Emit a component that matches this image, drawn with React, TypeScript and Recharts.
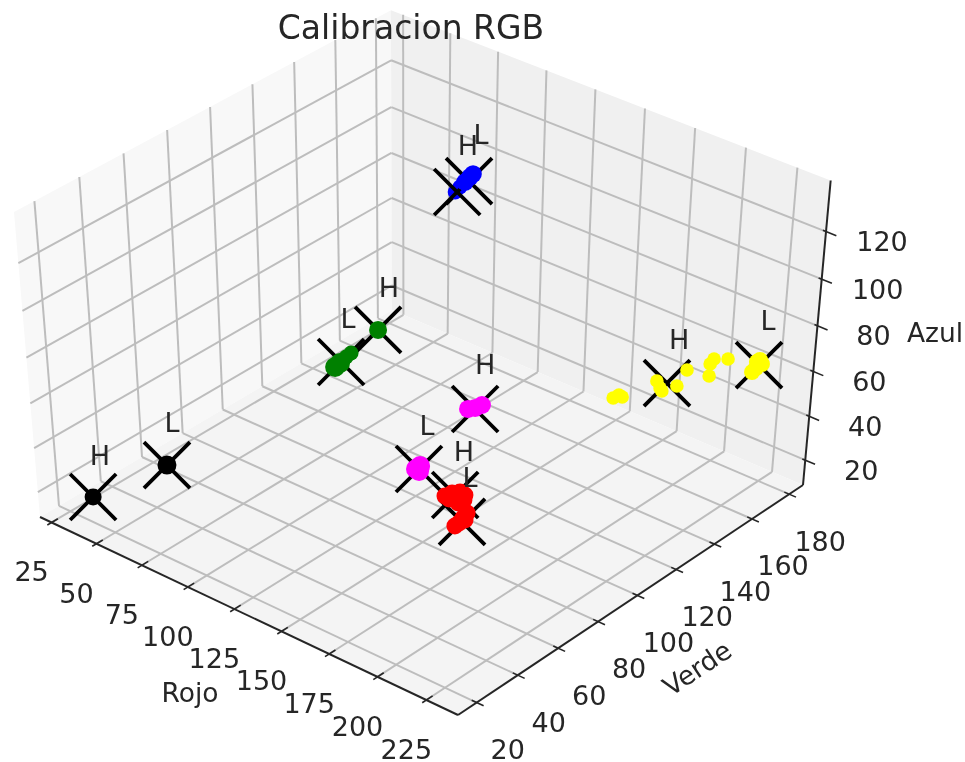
import React from 'react';
import { ScatterChart, Scatter, XAxis, YAxis } from 'recharts';

type V3 = [number, number, number];

// Axis limits and ticks (Rojo, Verde, Azul)
const rojoLim = [18.5, 241];
const verdeLim = [11, 187.5];
const azulLim = [8.5, 141];
const rojoTicks = [25, 50, 75, 100, 125, 150, 175, 200, 225];
const verdeTicks = [20, 40, 60, 80, 100, 120, 140, 160, 180];
const azulTicks = [20, 40, 60, 80, 100, 120];

// Readings
const negroL: V3[] = [[44.3, 50.4, 20]];
const negroH: V3[] = [[32.2, 25.1, 15]];
const verdeLBase: V3[] = [[45.1, 133.3, 20], [44.5, 136.4, 20]];
const verdeLPunta: V3[] = [[43.2, 140.7, 20], [42.6, 143.8, 20]];
const verdeH: V3[] = [[50.6, 150.4, 30]];
const azulBajo: V3[] = [[98.0, 144.6, 110], [96.8, 148.1, 110]];
const azulAlto: V3[] = [[95.7, 151.7, 110], [94.5, 155.3, 110], [93.9, 157.4, 110]];
const magentaH: V3[] = [[154.0, 98.2, 60], [155.7, 100.1, 60], [156.3, 102.9, 60]];
const magentaL: V3[] = [[145.8, 80.5, 40], [145.6, 82.7, 40], [147.7, 80.2, 40]];
const rojoL: V3[] = [[157.1, 84.2, 30], [157.8, 87.1, 30], [159.7, 89.2, 30], [162.7, 88.8, 30], [161.6, 84.9, 30], [159.8, 83.7, 30], [164.8, 86.3, 30], [164.5, 83.7, 30]];
const rojoH: V3[] = [[156.3, 96.2, 15], [157.5, 93.0, 15], [158.7, 89.9, 15], [158.9, 87.6, 15], [159.1, 92.5, 15]];
const amarilloL: V3[] = [[229.5, 168.9, 70], [229.5, 170.5, 70], [232.1, 165.7, 70], [232.8, 162.9, 70], [232.0, 168.9, 70]];
const amarilloH: V3[] = [[187.2, 161.8, 50], [191.6, 159.0, 50], [193.6, 157.9, 50], [195.8, 163.5, 50], [191.1, 173.6, 50]];
const amarilloM: V3[] = [[211.3, 163.7, 60], [205.8, 169.9, 60], [204.6, 173.2, 60], [208.9, 176.1, 60]];
const amarilloB: V3[] = [[171.4, 155.5, 40], [171.7, 158.2, 40], [173.7, 157.9, 40]];

// Reference crosses for each H / L group
const cruces: V3[] = [
  [44.3, 50.4, 20], [32.2, 25.1, 15], [44.3, 137.1, 20], [50.6, 150.4, 30],
  [156.2, 99.6, 60], [146.7, 81.1, 40], [159.7, 86.8, 30], [159.1, 91.0, 15],
  [231.6, 167.8, 70], [191.3, 162.9, 50], [96.4, 153.0, 110],
];
const cruzAzul: V3[] = [[98.6, 145.0, 110]];

// H / L annotations
const etiquetasH: V3[] = [[30.1, 31.2, 30], [42.6, 163.5, 40], [89.4, 159.0, 120], [148.6, 111.7, 70], [151.6, 98.8, 40], [205.5, 152.6, 80]];
const etiquetasL: V3[] = [[35.5, 61.1, 30], [46.5, 138.9, 40], [87.5, 167.4, 120], [160.7, 71.7, 70], [166.6, 87.4, 40], [223.7, 179.8, 80]];

// ---- projection of the 3D box onto the page, calibrated on the box corners
const O = [40, 517], A = [458, 715], B = [392, 310], C = [803, 485], T0 = [14, 212];
const c3 = -0.066;
const det = (C[0] - A[0]) * (C[1] - B[1]) - (C[0] - B[0]) * (C[1] - A[1]);
const r1 = A[0] + B[0] - O[0] - C[0], r2 = A[1] + B[1] - O[1] - C[1];
const a3 = (r1 * (C[1] - B[1]) - (C[0] - B[0]) * r2) / det;
const b3 = ((C[0] - A[0]) * r2 - (C[1] - A[1]) * r1) / det;
const Vx = [(1 + a3) * A[0] - O[0], (1 + a3) * A[1] - O[1]];
const Vy = [(1 + b3) * B[0] - O[0], (1 + b3) * B[1] - O[1]];
const Vz = [(1 + c3) * T0[0] - O[0], (1 + c3) * T0[1] - O[1]];

const pr = ([x, y, z]: V3, dx = 0, dy = 0) => {
  const s = (x - rojoLim[0]) / (rojoLim[1] - rojoLim[0]);
  const t = (y - verdeLim[0]) / (verdeLim[1] - verdeLim[0]);
  const w = (z - azulLim[0]) / (azulLim[1] - azulLim[0]);
  const h = 1 + s * a3 + t * b3 + w * c3;
  return {
    px: (O[0] + s * Vx[0] + t * Vy[0] + w * Vz[0]) / h + dx,
    py: (O[1] + s * Vx[1] + t * Vy[1] + w * Vz[1]) / h + dy,
  };
};

const [x0, x1] = rojoLim, [y0, y1] = verdeLim, [z0, z1] = azulLim;

const W = 965, H = 762;
const GRID = '#bdbdbd';
const INK = '#262626';
const FONT = '"DejaVu Sans", sans-serif';
const none = () => <g />;

const seg = (key: string, a: V3, b: V3, stroke: string, strokeWidth: number) => (
  <Scatter key={key} data={[pr(a), pr(b)]} line={{ stroke, strokeWidth }} shape={none} isAnimationActive={false} legendType="none" />
);

const pane = (key: string, pts: V3[], fill: string) => (
  <Scatter
    key={key}
    data={[{ ...pr(pts[0]), poly: pts.map((p) => pr(p)) }]}
    shape={(p: any) => <polygon points={p.payload.poly.map((q: any) => `${q.px},${q.py}`).join(' ')} fill={fill} />}
    isAnimationActive={false}
  />
);

const dots = (key: string, pts: V3[], fill: string, r: number) => (
  <Scatter key={key} data={pts.map((p) => pr(p))} isAnimationActive={false}
    shape={(p: any) => <circle cx={p.cx} cy={p.cy} r={r} fill={fill} />} />
);

const crossShape = (p: any) => {
  const k = 23;
  return (
    <g stroke="#000" strokeWidth={3.8} strokeLinecap="butt">
      <line x1={p.cx - k} y1={p.cy - k} x2={p.cx + k} y2={p.cy + k} />
      <line x1={p.cx - k} y1={p.cy + k} x2={p.cx + k} y2={p.cy - k} />
    </g>
  );
};

const texts = (key: string, items: { px: number; py: number; text: string }[], size: number, rotate = 0) => (
  <Scatter key={key} data={items} isAnimationActive={false}
    shape={(p: any) => (
      <text x={p.cx} y={p.cy} textAnchor="middle" dominantBaseline="central" fontFamily={FONT} fontSize={size} fill={INK}
        transform={rotate ? `rotate(${rotate} ${p.cx} ${p.cy})` : undefined}>{p.payload.text}</text>
    )} />
);

export default function App() {
  return (
    <div style={{ position: 'absolute', left: 0, top: 0, width: W, height: H, background: '#fff', filter: 'blur(0.6px)' }}>
      <ScatterChart width={W} height={H} margin={{ top: 0, right: 0, bottom: 0, left: 0 }}>
        <XAxis type="number" dataKey="px" domain={[0, W]} hide />
        <YAxis type="number" dataKey="py" domain={[0, H]} reversed hide />

        {pane('wallL', [[x0, y0, z0], [x0, y1, z0], [x0, y1, z1], [x0, y0, z1]], '#f8f8f8')}
        {pane('wallR', [[x0, y1, z0], [x1, y1, z0], [x1, y1, z1], [x0, y1, z1]], '#f0f0f0')}
        {pane('floor', [[x0, y0, z0], [x1, y0, z0], [x1, y1, z0], [x0, y1, z0]], '#f4f4f4')}

        {rojoTicks.map((v) => seg(`gxf${v}`, [v, y0, z0], [v, y1, z0], GRID, 2))}
        {rojoTicks.map((v) => seg(`gxw${v}`, [v, y1, z0], [v, y1, z1], GRID, 2))}
        {verdeTicks.map((v) => seg(`gyf${v}`, [x1, v, z0], [x0, v, z0], GRID, 2))}
        {verdeTicks.map((v) => seg(`gyw${v}`, [x0, v, z0], [x0, v, z1], GRID, 2))}
        {azulTicks.map((v) => seg(`gzl${v}`, [x0, y0, v], [x0, y1, v], GRID, 2))}
        {azulTicks.map((v) => seg(`gzr${v}`, [x0, y1, v], [x1, y1, v], GRID, 2))}

        {seg('axX', [x0, y0, z0], [x1, y0, z0], INK, 2)}
        {seg('axY', [x1, y0, z0], [x1, y1, z0], INK, 2)}
        {seg('axZ', [x1, y1, z0], [x1, y1, z1], INK, 2)}
        {rojoTicks.map((v) => seg(`tx${v}`, [v, y0 - 2, z0], [v, y0 + 3, z0], INK, 1.6))}
        {verdeTicks.map((v) => seg(`ty${v}`, [x1 - 2.5, v, z0], [x1 + 3.5, v, z0], INK, 1.6))}
        {azulTicks.map((v) => seg(`tz${v}`, [x1 - 1.5, y1, v], [x1 + 5, y1, v], INK, 1.6))}

        <Scatter data={cruces.map((p) => pr(p))} shape={crossShape} isAnimationActive={false} />

        {dots('negroL', negroL, '#000', 9.5)}
        {dots('negroH', negroH, '#000', 8.5)}
        {dots('verdeLBase', verdeLBase, '#008000', 10)}
        {dots('verdeLPunta', verdeLPunta, '#008000', 7.5)}
        {dots('verdeH', verdeH, '#008000', 9)}
        {dots('azulBajo', azulBajo, '#0000ff', 7.5)}
        <Scatter data={cruzAzul.map((p) => pr(p))} shape={crossShape} isAnimationActive={false} />
        {dots('azulAlto', azulAlto, '#0000ff', 8.8)}
        {dots('magentaH', magentaH, '#ff00ff', 9)}
        {dots('magentaL', magentaL, '#ff00ff', 10)}
        {dots('rojoL', rojoL, '#ff0000', 8.5)}
        {dots('rojoH', rojoH, '#ff0000', 8.5)}
        {dots('amarilloL', amarilloL, '#ffff00', 8)}
        {dots('amarilloH', amarilloH, '#ffff00', 6.8)}
        {dots('amarilloM', amarilloM, '#ffff00', 6.8)}
        {dots('amarilloB', amarilloB, '#ffff00', 6.8)}

        {texts('lh', etiquetasH.map((p) => ({ ...pr(p), text: 'H' })), 27)}
        {texts('ll', etiquetasL.map((p) => ({ ...pr(p), text: 'L' })), 27)}
        {texts('tlx', rojoTicks.map((v) => ({ ...pr([v, y0, z0], -20, 49.5), text: String(v) })), 27)}
        {texts('tly', verdeTicks.map((v) => ({ ...pr([x1, v, z0], 31, 47), text: String(v) })), 27)}
        {texts('tlz', azulTicks.map((v) => ({ ...pr([x1, y1, v], 56, 10), text: String(v) })), 27)}
        {texts('labx', [{ px: 190, py: 692, text: 'Rojo' }], 26.5)}
        {texts('laby', [{ px: 697, py: 668, text: 'Verde' }], 26.5, -33.7)}
        {texts('labz', [{ px: 935, py: 332, text: 'Azul' }], 26.5)}
        {texts('title', [{ px: 411, py: 27, text: 'Calibracion RGB' }], 33)}
      </ScatterChart>
    </div>
  );
}
